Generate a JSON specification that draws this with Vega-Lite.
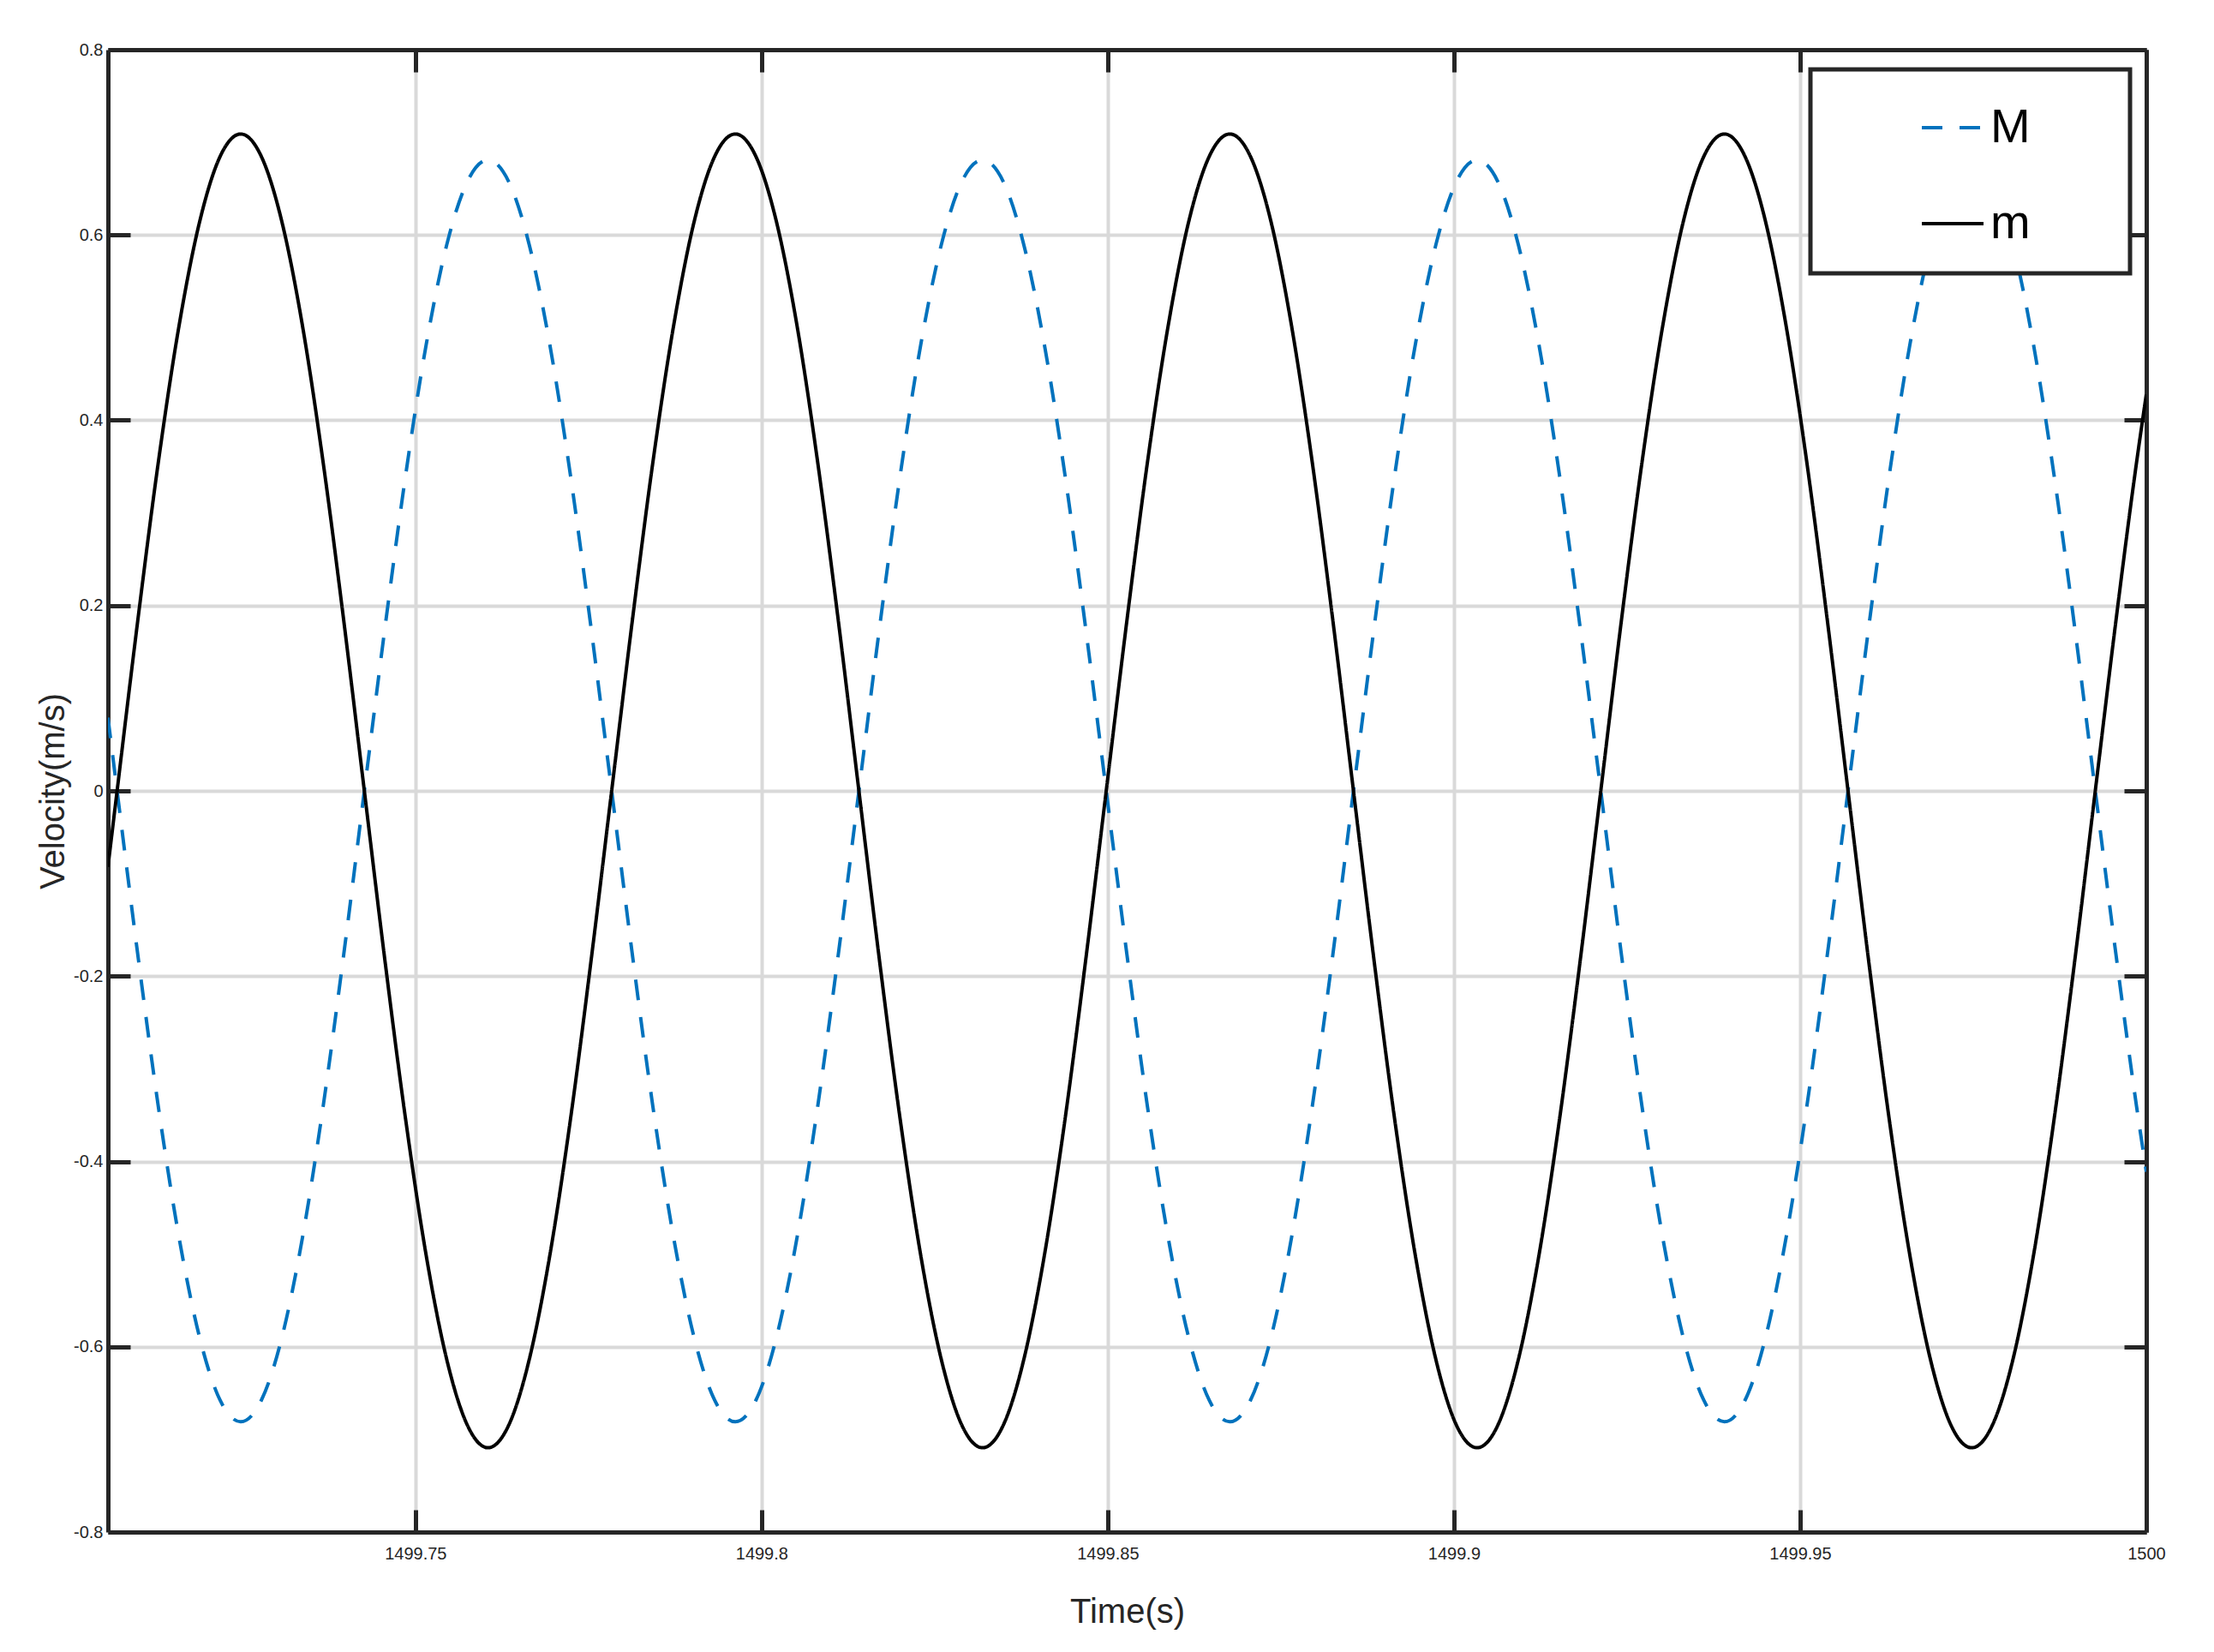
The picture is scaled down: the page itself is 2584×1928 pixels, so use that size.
{
  "$schema": "https://vega.github.io/schema/vega-lite/v6.json",
  "autosize": {"type": "none"},
  "width": 2379,
  "height": 1730,
  "padding": {"left": 126, "top": 58, "right": 79, "bottom": 140},
  "background": "white",
  "config": {
    "view": {"stroke": null},
    "axis": {
      "labelFont": "Liberation Sans",
      "titleFont": "Liberation Sans",
      "labelColor": "#262626",
      "titleColor": "#262626",
      "titleFontWeight": "normal",
      "domain": true,
      "domainColor": "#262626",
      "domainWidth": 5,
      "tickColor": "#262626",
      "tickWidth": 5,
      "tickSize": -26,
      "gridColor": "#d9d9d9",
      "gridWidth": 4,
      "labelFontSize": 20
    }
  },
  "data": {
    "values": [
      {"t": 1499.7056, "M": 0.079, "m": -0.082},
      {"t": 1499.70692, "M": 0, "m": 0},
      {"t": 1499.7099, "M": -0.1762, "m": 0.1835},
      {"t": 1499.71287, "M": -0.3405, "m": 0.3545},
      {"t": 1499.71585, "M": -0.4815, "m": 0.5013},
      {"t": 1499.71883, "M": -0.5897, "m": 0.614},
      {"t": 1499.7218, "M": -0.6578, "m": 0.6848},
      {"t": 1499.72478, "M": -0.681, "m": 0.709},
      {"t": 1499.72775, "M": -0.6578, "m": 0.6848},
      {"t": 1499.73073, "M": -0.5897, "m": 0.614},
      {"t": 1499.73371, "M": -0.4815, "m": 0.5013},
      {"t": 1499.73668, "M": -0.3405, "m": 0.3545},
      {"t": 1499.73966, "M": -0.1762, "m": 0.1835},
      {"t": 1499.74263, "M": 0, "m": 0},
      {"t": 1499.74561, "M": 0.1762, "m": -0.1835},
      {"t": 1499.74859, "M": 0.3405, "m": -0.3545},
      {"t": 1499.75156, "M": 0.4815, "m": -0.5013},
      {"t": 1499.75454, "M": 0.5897, "m": -0.614},
      {"t": 1499.75752, "M": 0.6578, "m": -0.6848},
      {"t": 1499.76049, "M": 0.681, "m": -0.709},
      {"t": 1499.76347, "M": 0.6578, "m": -0.6848},
      {"t": 1499.76644, "M": 0.5897, "m": -0.614},
      {"t": 1499.76942, "M": 0.4815, "m": -0.5013},
      {"t": 1499.7724, "M": 0.3405, "m": -0.3545},
      {"t": 1499.77537, "M": 0.1762, "m": -0.1835},
      {"t": 1499.77835, "M": 0, "m": 0},
      {"t": 1499.78133, "M": -0.1762, "m": 0.1835},
      {"t": 1499.7843, "M": -0.3405, "m": 0.3545},
      {"t": 1499.78728, "M": -0.4815, "m": 0.5013},
      {"t": 1499.79025, "M": -0.5897, "m": 0.614},
      {"t": 1499.79323, "M": -0.6578, "m": 0.6848},
      {"t": 1499.79621, "M": -0.681, "m": 0.709},
      {"t": 1499.79918, "M": -0.6578, "m": 0.6848},
      {"t": 1499.80216, "M": -0.5897, "m": 0.614},
      {"t": 1499.80514, "M": -0.4815, "m": 0.5013},
      {"t": 1499.80811, "M": -0.3405, "m": 0.3545},
      {"t": 1499.81109, "M": -0.1762, "m": 0.1835},
      {"t": 1499.81406, "M": 0, "m": 0},
      {"t": 1499.81704, "M": 0.1762, "m": -0.1835},
      {"t": 1499.82002, "M": 0.3405, "m": -0.3545},
      {"t": 1499.82299, "M": 0.4815, "m": -0.5013},
      {"t": 1499.82597, "M": 0.5897, "m": -0.614},
      {"t": 1499.82894, "M": 0.6578, "m": -0.6848},
      {"t": 1499.83192, "M": 0.681, "m": -0.709},
      {"t": 1499.8349, "M": 0.6578, "m": -0.6848},
      {"t": 1499.83787, "M": 0.5897, "m": -0.614},
      {"t": 1499.84085, "M": 0.4815, "m": -0.5013},
      {"t": 1499.84383, "M": 0.3405, "m": -0.3545},
      {"t": 1499.8468, "M": 0.1762, "m": -0.1835},
      {"t": 1499.84978, "M": 0, "m": 0},
      {"t": 1499.85276, "M": -0.1762, "m": 0.1835},
      {"t": 1499.85573, "M": -0.3405, "m": 0.3545},
      {"t": 1499.85871, "M": -0.4815, "m": 0.5013},
      {"t": 1499.86168, "M": -0.5897, "m": 0.614},
      {"t": 1499.86466, "M": -0.6578, "m": 0.6848},
      {"t": 1499.86763, "M": -0.681, "m": 0.709},
      {"t": 1499.87061, "M": -0.6578, "m": 0.6848},
      {"t": 1499.87359, "M": -0.5897, "m": 0.614},
      {"t": 1499.87656, "M": -0.4815, "m": 0.5013},
      {"t": 1499.87954, "M": -0.3405, "m": 0.3545},
      {"t": 1499.88252, "M": -0.1762, "m": 0.1835},
      {"t": 1499.88549, "M": 0, "m": 0},
      {"t": 1499.88847, "M": 0.1762, "m": -0.1835},
      {"t": 1499.89144, "M": 0.3405, "m": -0.3545},
      {"t": 1499.89442, "M": 0.4815, "m": -0.5013},
      {"t": 1499.8974, "M": 0.5897, "m": -0.614},
      {"t": 1499.90037, "M": 0.6578, "m": -0.6848},
      {"t": 1499.90335, "M": 0.681, "m": -0.709},
      {"t": 1499.90633, "M": 0.6578, "m": -0.6848},
      {"t": 1499.9093, "M": 0.5897, "m": -0.614},
      {"t": 1499.91228, "M": 0.4815, "m": -0.5013},
      {"t": 1499.91525, "M": 0.3405, "m": -0.3545},
      {"t": 1499.91823, "M": 0.1762, "m": -0.1835},
      {"t": 1499.92121, "M": 0, "m": 0},
      {"t": 1499.92418, "M": -0.1762, "m": 0.1835},
      {"t": 1499.92716, "M": -0.3405, "m": 0.3545},
      {"t": 1499.93014, "M": -0.4815, "m": 0.5013},
      {"t": 1499.93311, "M": -0.5897, "m": 0.614},
      {"t": 1499.93609, "M": -0.6578, "m": 0.6848},
      {"t": 1499.93906, "M": -0.681, "m": 0.709},
      {"t": 1499.94204, "M": -0.6578, "m": 0.6848},
      {"t": 1499.94502, "M": -0.5897, "m": 0.614},
      {"t": 1499.94799, "M": -0.4815, "m": 0.5013},
      {"t": 1499.95097, "M": -0.3405, "m": 0.3545},
      {"t": 1499.95394, "M": -0.1762, "m": 0.1835},
      {"t": 1499.95692, "M": 0, "m": 0},
      {"t": 1499.9599, "M": 0.1762, "m": -0.1835},
      {"t": 1499.96287, "M": 0.3405, "m": -0.3545},
      {"t": 1499.96585, "M": 0.4815, "m": -0.5013},
      {"t": 1499.96883, "M": 0.5897, "m": -0.614},
      {"t": 1499.9718, "M": 0.6578, "m": -0.6848},
      {"t": 1499.97478, "M": 0.681, "m": -0.709},
      {"t": 1499.97776, "M": 0.6578, "m": -0.6848},
      {"t": 1499.98073, "M": 0.5897, "m": -0.614},
      {"t": 1499.98371, "M": 0.4815, "m": -0.5013},
      {"t": 1499.98668, "M": 0.3405, "m": -0.3545},
      {"t": 1499.98966, "M": 0.1762, "m": -0.1835},
      {"t": 1499.99263, "M": 0, "m": 0},
      {"t": 1499.99561, "M": -0.1762, "m": 0.1835},
      {"t": 1499.99859, "M": -0.3405, "m": 0.3545},
      {"t": 1500.0, "M": -0.411, "m": 0.428}
    ]
  },
  "transform": [{"fold": ["M", "m"], "as": ["series", "v"]}],
  "layer": [
    {
      "mark": {"type": "line", "strokeWidth": 4, "interpolate": "monotone", "clip": true},
      "encoding": {
        "x": {
          "field": "t", "type": "quantitative",
          "scale": {"domain": [1499.7056, 1500], "nice": false, "zero": false},
          "axis": {
            "orient": "bottom",
            "values": [1499.75, 1499.8, 1499.85, 1499.9, 1499.95, 1500],
            "labelExpr": "toString(datum.value)",
            "labelFlush": false,
            "labelPadding": 41,
            "grid": true,
            "title": "Time(s)",
            "titleFontSize": 40,
            "titlePadding": 38
          }
        },
        "y": {
          "field": "v", "type": "quantitative",
          "scale": {"domain": [-0.8, 0.8], "nice": false, "zero": false},
          "axis": {
            "orient": "left",
            "values": [-0.8, -0.6, -0.4, -0.2, 0, 0.2, 0.4, 0.6, 0.8],
            "labelExpr": "toString(datum.value)",
            "labelFlush": false,
            "labelPadding": 32,
            "grid": true,
            "title": "Velocity(m/s)",
            "titleFontSize": 40,
            "titlePadding": 3
          }
        },
        "color": {
          "field": "series", "type": "nominal",
          "scale": {"domain": ["M", "m"], "range": ["#0072BD", "#000000"]},
          "legend": {
            "orient": "none",
            "legendX": 1987,
            "legendY": 23,
            "title": "\u00a0",
            "titleOrient": "right",
            "titlePadding": 86,
            "titleFontSize": 10,
            "padding": 30,
            "rowPadding": 46,
            "symbolType": "stroke",
            "symbolSize": 5184,
            "symbolStrokeWidth": 4,
            "symbolOffset": 98,
            "labelFont": "Liberation Sans",
            "labelFontSize": 56,
            "labelColor": "#000000",
            "labelOffset": 6,
            "fillColor": "white",
            "strokeColor": "#262626",
            "encode": {"legend": {"update": {"strokeWidth": {"value": 5}}}}
          }
        },
        "strokeDash": {
          "field": "series", "type": "nominal",
          "scale": {"domain": ["M", "m"], "range": [[24, 20], [1, 0]]},
          "legend": {
            "orient": "none",
            "legendX": 1987,
            "legendY": 23,
            "title": "\u00a0",
            "titleOrient": "right",
            "titlePadding": 86,
            "titleFontSize": 10,
            "padding": 30,
            "rowPadding": 46,
            "symbolType": "stroke",
            "symbolSize": 5184,
            "symbolStrokeWidth": 4,
            "symbolOffset": 98,
            "labelFont": "Liberation Sans",
            "labelFontSize": 56,
            "labelColor": "#000000",
            "labelOffset": 6,
            "fillColor": "white",
            "strokeColor": "#262626",
            "encode": {"legend": {"update": {"strokeWidth": {"value": 5}}}}
          }
        }
      }
    },
    {
      "mark": {"type": "line", "strokeOpacity": 0, "clip": true},
      "encoding": {
        "x": {
          "field": "t", "type": "quantitative",
          "axis": {
            "orient": "top",
            "values": [1499.75, 1499.8, 1499.85, 1499.9, 1499.95, 1500],
            "labels": false, "grid": false, "title": null
          }
        },
        "y": {
          "field": "v", "type": "quantitative",
          "axis": {
            "orient": "right",
            "values": [-0.8, -0.6, -0.4, -0.2, 0, 0.2, 0.4, 0.6, 0.8],
            "labels": false, "grid": false, "title": null
          }
        },
        "detail": {"field": "series", "type": "nominal"}
      }
    }
  ],
  "resolve": {"axis": {"x": "independent", "y": "independent"}}
}
